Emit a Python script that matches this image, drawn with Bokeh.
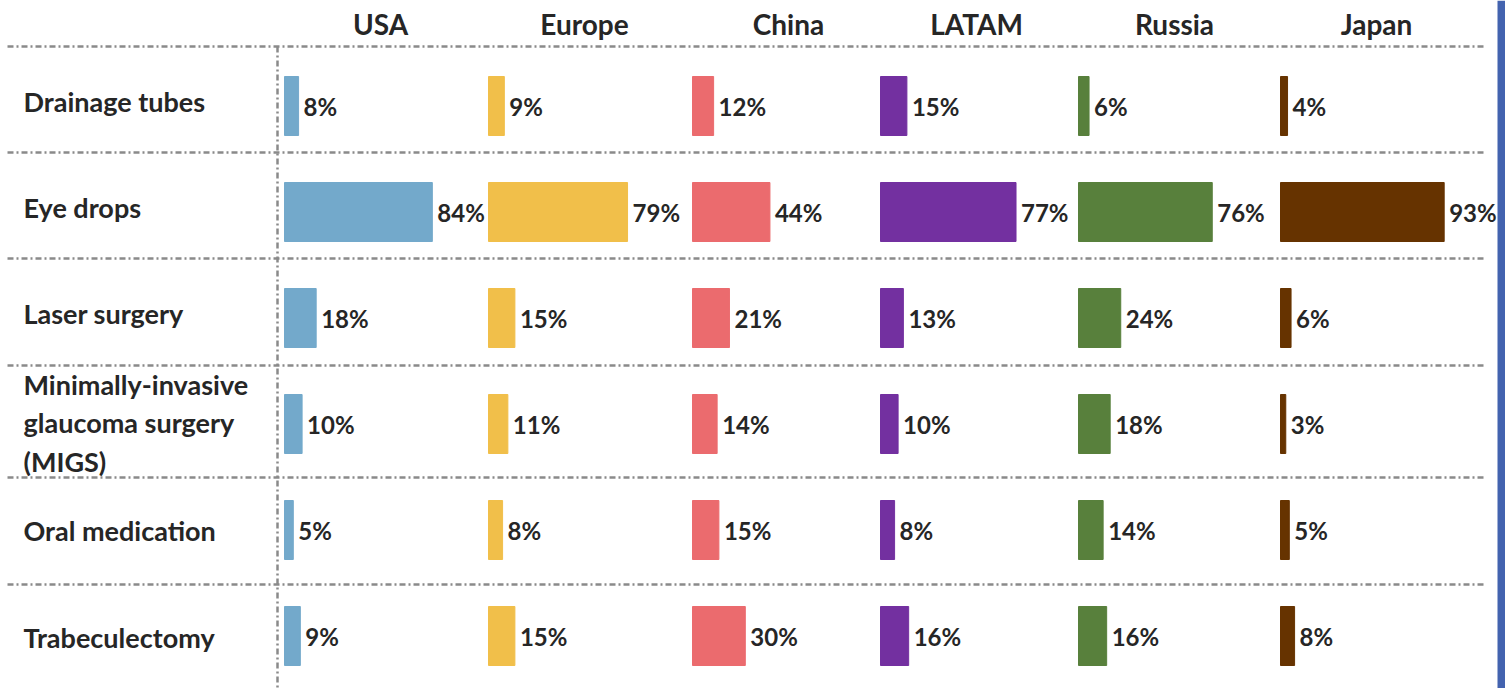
from bokeh.plotting import figure
from bokeh.models import Range1d, ColumnDataSource
from bokeh.core.properties import value
from bokeh.embed import file_html
from bokeh.resources import INLINE

# ---------------- data ----------------
categories = ["Drainage tubes", "Eye drops", "Laser surgery",
              "Minimally-invasive\nglaucoma surgery\n(MIGS)",
              "Oral medication", "Trabeculectomy"]
regions = ["USA", "Europe", "China", "LATAM", "Russia", "Japan"]
usa = [8, 84, 18, 10, 5, 9]
europe = [9, 79, 15, 11, 8, 15]
china = [12, 44, 21, 14, 15, 30]
latam = [15, 77, 13, 10, 8, 16]
russia = [6, 76, 24, 18, 14, 16]
japan = [4, 93, 6, 3, 5, 8]
series = [usa, europe, china, latam, russia, japan]

# ---------------- layout / style ----------------
W, H = 1505, 688
PX = 1.76            # pixels per percentage point
PITCH = 106.0        # pixels per row
ROW0 = 105.5         # pixel centre of first row
colors = ["#73A9CB", "#F1BF4A", "#EB6B6E", "#7330A0", "#58803C", "#663300"]
col_start_px = [284, 488, 692, 880, 1078, 1280]
divider_px = [46, 152, 258, 365, 477, 584]
label_dy_px = [-5, -5, -5, -1, 0, 1]
TXT = "#262626"
FONT = "Lato"
DASH = "6 3 2 3"
LINE_C = "#8a8a8a"
GAP_PX = 5


def ux(px):
    return px / PX


def uy(px):
    return (px - ROW0) / PITCH


p = figure(width=W, height=H, output_backend="svg", toolbar_location=None,
           x_range=Range1d(0, ux(W)), y_range=Range1d(uy(H), uy(0)),
           min_border=0)
p.axis.visible = False
p.grid.visible = False
p.outline_line_color = None
p.background_fill_color = "white"
p.border_fill_color = "white"

# dividers
for d in divider_px:
    p.line([ux(7), ux(1483)], [uy(d), uy(d)], line_color=LINE_C,
           line_width=2.5, line_dash=DASH)
p.line([ux(277), ux(277)], [uy(divider_px[0]), uy(H)], line_color=LINE_C,
       line_width=2.5, line_dash=DASH)

# right blue stripe
p.quad(left=[ux(1497)], right=[ux(W)], bottom=[uy(H)], top=[uy(0)],
       fill_color="#4363AF", line_color=None)

rows = list(range(len(categories)))
for j, (reg, vals) in enumerate(zip(regions, series)):
    off = ux(col_start_px[j])
    src = ColumnDataSource(dict(
        y=rows,
        left=[off] * len(vals),
        right=[off + v for v in vals],
        tx=[off + v + ux(GAP_PX) for v in vals],
        lab=[f"{v}%" for v in vals],
    ))
    p.hbar(y="y", left="left", right="right", height=59 / PITCH, source=src,
           fill_color=colors[j], line_color=colors[j])
    p.text(x="tx", y="y", text="lab", source=src, text_align="left",
           text_baseline="middle", text_font=value(FONT), text_font_size="24px",
           text_font_style="bold", text_color=TXT)
    p.text(x=[off + ux(96)], y=[uy(23)], text=[reg], text_align="center",
           text_baseline="middle", text_font=value(FONT), text_font_size="28px",
           text_font_style="bold", text_color=TXT)

lab_src = ColumnDataSource(dict(
    x=[ux(23)] * len(categories),
    y=[r + dy / PITCH for r, dy in zip(rows, label_dy_px)],
    t=categories,
))
p.text(x="x", y="y", text="t", source=lab_src, text_align="left",
       text_baseline="middle", text_font=value(FONT), text_font_size="27px",
       text_font_style="bold", text_color=TXT, text_line_height=1.18)

open("out.html", "w").write(file_html(p, INLINE))
